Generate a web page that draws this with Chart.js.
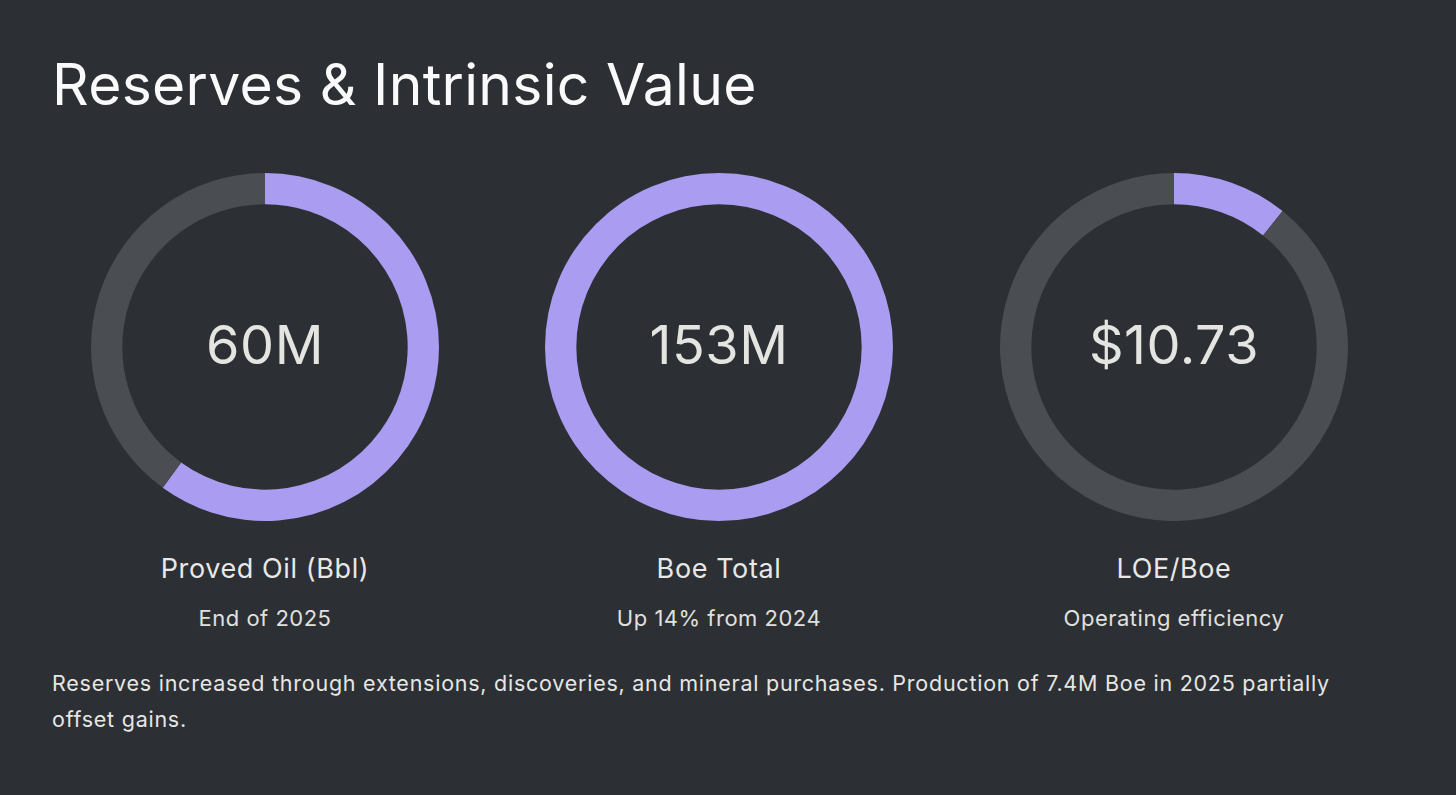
<!DOCTYPE html>
<html>
<head>
<meta charset="utf-8">
<script src="https://cdn.jsdelivr.net/npm/chart.js@4.4.1/dist/chart.umd.min.js"></script>
<style>
  html, body { margin: 0; padding: 0; background: #2c2f33; }
  body { width: 1456px; height: 795px; position: relative; overflow: hidden; font-family: Inter, "Noto Sans", sans-serif; color: #e8e8e6; }
  h1 { position: absolute; left: 52px; top: 50px; margin: 0; font-size: 57px; font-weight: 400; letter-spacing: 0.3px; color: #fafafa; white-space: nowrap; }
  .card { position: absolute; top: 172px; width: 350px; text-align: center; }
  .card canvas { display: block; }
  .name { margin-top: 31px; font-size: 27px; line-height: 32px; letter-spacing: 0.6px; white-space: nowrap; margin-left: -60px; margin-right: -60px; }
  .sub { margin-top: 20px; font-size: 22px; line-height: 26px; letter-spacing: 0.5px; color: #e0e0de; white-space: nowrap; margin-left: -60px; margin-right: -60px; }
  #note { position: absolute; left: 52px; top: 665px; width: 1300px; font-size: 21.5px; line-height: 36px; letter-spacing: 0.75px; color: #e6e6e4; margin: 0; }
</style>
</head>
<body>
<h1>Reserves &amp; Intrinsic Value</h1>
<div id="cards"></div>
<p id="note">Reserves increased through extensions, discoveries, and mineral purchases. Production of 7.4M Boe in 2025 partially offset gains.</p>
<script>
// --- DATA ---
const names = ['Proved Oil (Bbl)', 'Boe Total', 'LOE/Boe'];
const subs = ['End of 2025', 'Up 14% from 2024', 'Operating efficiency'];
const centerLabels = ['60M', '153M', '$10.73'];
const filled = [60, 100, 10.73];   // share of ring drawn in purple, out of 100
const lefts = [90, 544, 999];

// --- CENTER TEXT PLUGIN ---
const centerText = {
  id: 'centerText',
  afterDraw(chart, args, opts) {
    const { ctx } = chart;
    const meta = chart.getDatasetMeta(0).data[0];
    ctx.save();
    ctx.font = '400 54px Inter, sans-serif';
    ctx.letterSpacing = '0.5px';
    ctx.fillStyle = '#e4e4e0';
    ctx.textAlign = 'center';
    ctx.textBaseline = 'middle';
    ctx.fillText(opts.text, meta.x, meta.y + 1);
    ctx.restore();
  }
};

// --- CHARTS ---
const wrap = document.getElementById('cards');
names.forEach((n, i) => {
  const card = document.createElement('div');
  card.className = 'card';
  card.style.left = lefts[i] + 'px';
  card.innerHTML = `<div style="width:350px;height:350px"><canvas></canvas></div>
    <div class="name">${n}</div><div class="sub">${subs[i]}</div>`;
  wrap.appendChild(card);
  new Chart(card.querySelector('canvas'), {
    type: 'doughnut',
    data: {
      labels: ['value', 'rest'],
      datasets: [{
        data: [filled[i], 100 - filled[i]],
        backgroundColor: ['#a99cf1', '#4a4d51'],
        borderWidth: 0
      }]
    },
    options: {
      responsive: true,
      maintainAspectRatio: false,
      animation: false,
      cutout: '82%',
      layout: { padding: 1 },
      plugins: {
        legend: { display: false },
        tooltip: { enabled: false },
        centerText: { text: centerLabels[i] }
      }
    },
    plugins: [centerText]
  });
});
</script>
</body>
</html>
